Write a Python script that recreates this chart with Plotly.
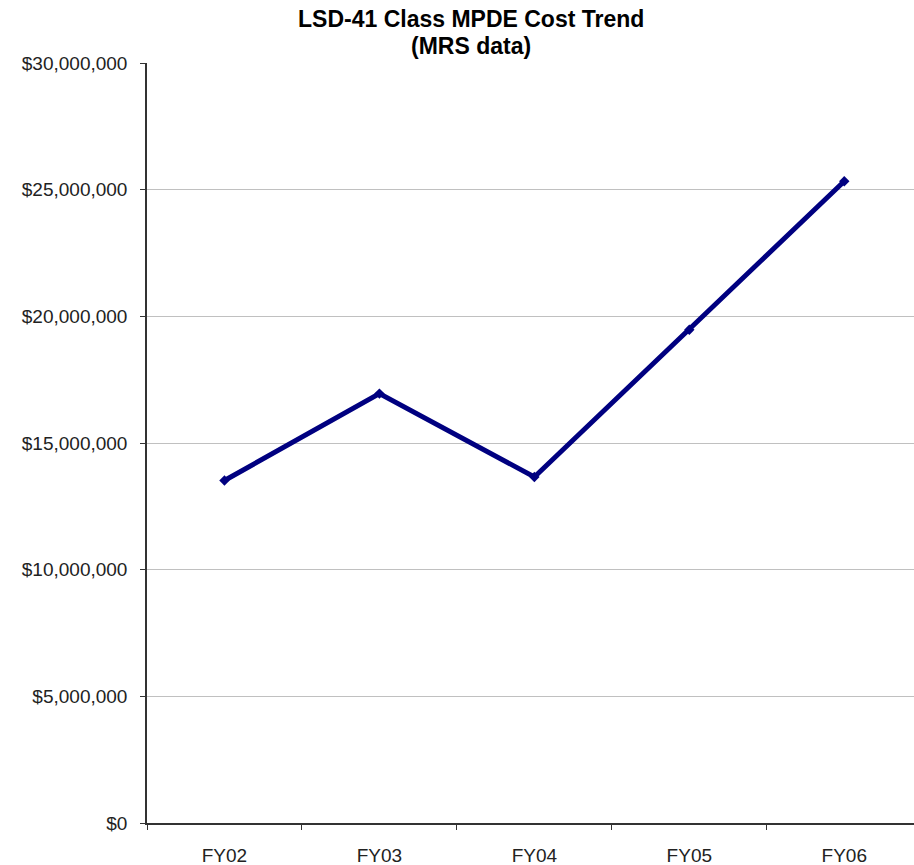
import plotly.graph_objects as go

categories = ["FY02", "FY03", "FY04", "FY05", "FY06"]
costs = [13520000, 16950000, 13660000, 19470000, 25330000]
y_ticks = [0, 5000000, 10000000, 15000000, 20000000, 25000000, 30000000]
title_line1 = "LSD-41 Class MPDE Cost Trend"
title_line2 = "(MRS data)"

W, H = 914, 865
ML, MR, MT, MB = 147, 0, 63, 42

fig = go.Figure()
fig.add_trace(go.Scatter(
    x=categories, y=costs, mode="lines+markers",
    line=dict(color="#000080", width=5),
    marker=dict(symbol="diamond", size=8, color="#000080"),
    showlegend=False, hoverinfo="skip",
))

fig.update_layout(
    width=W, height=H,
    margin=dict(l=ML, r=MR, t=MT, b=MB),
    paper_bgcolor="white", plot_bgcolor="white",
    font=dict(family="Liberation Sans, Arial, sans-serif", size=19, color="#222222"),
    xaxis=dict(
        type="category", range=[-0.5, 4.45],
        showgrid=False, showline=True, linecolor="#333333", linewidth=1.5,
        ticks="outside", tickson="boundaries", ticklen=5, tickcolor="#333333",
        tickfont=dict(size=19, color="#222222"), ticklabelstandoff=14,
    ),
    yaxis=dict(
        range=[0, 30000000], tickvals=y_ticks, tickformat="$,.0f",
        showgrid=True, gridcolor="#c0c0c0", gridwidth=1,
        showline=True, linecolor="#333333", linewidth=1.5,
        ticks="outside", ticklen=5, tickcolor="#333333",
        tickfont=dict(size=19, color="#222222"), ticklabelstandoff=9,
        zeroline=False,
    ),
    annotations=[
        dict(text="<b>" + title_line1 + "</b>", xref="paper", yref="paper",
             x=(471 - ML) / (W - ML - MR), y=(H - MB - 19) / (H - MT - MB),
             xanchor="center", yanchor="middle", showarrow=False,
             font=dict(size=23, color="#000000")),
        dict(text="<b>" + title_line2 + "</b>", xref="paper", yref="paper",
             x=(471 - ML) / (W - ML - MR), y=(H - MB - 45.5) / (H - MT - MB),
             xanchor="center", yanchor="middle", showarrow=False,
             font=dict(size=23, color="#000000")),
    ],
)

fig.write_html("out.html")
